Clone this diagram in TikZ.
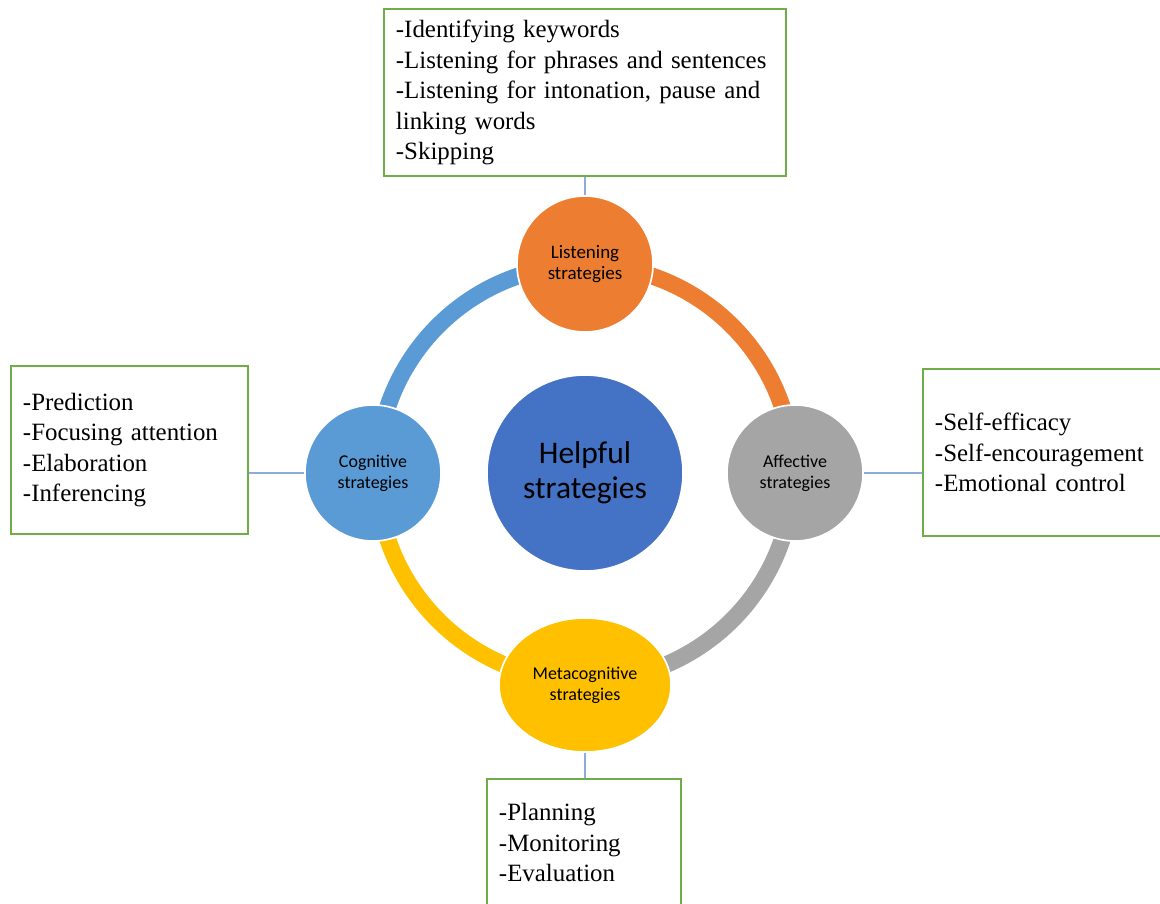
\documentclass[tikz,border=0pt]{standalone}
\usepackage{fontspec}
\setmainfont{Liberation Serif}
\newfontfamily\calib{Carlito}
\usepackage{tikz}
\usetikzlibrary{shapes.geometric}
\definecolor{corange}{HTML}{ED7D31}
\definecolor{cgray}{HTML}{A5A5A5}
\definecolor{cblue}{HTML}{5B9BD5}
\definecolor{cgold}{HTML}{FFC000}
\definecolor{cdark}{HTML}{4472C4}
\definecolor{cgreen}{HTML}{70AD47}
\definecolor{clink}{HTML}{8FAADC}

\begin{document}
\begin{tikzpicture}[x=0.025cm, y=0.025cm]
    \tikzstyle{hub}=[shape=circle, fill=cdark, draw=white, line width=1.2pt, minimum size=4.9cm, inner sep=0pt, align=center, font=\calib\fontsize{22.4}{25}\selectfont];
    \tikzstyle{strat}=[shape=circle, draw=white, line width=1.2pt, minimum size=3.4cm, inner sep=0pt, align=center, font=\calib\fontsize{12.8}{15}\selectfont];
    \tikzstyle{ring}=[line width=12pt];
    \tikzstyle{list}=[draw=cgreen, line width=1.4pt, inner xsep=0.3cm, inner ysep=0pt, align=left, font={\hyphenpenalty=10000 \fontsize{17.7}{21.7}\selectfont}];
    \tikzstyle{link}=[draw=clink, line width=0.8pt];
    \useasboundingbox (0,0) rectangle (1160,-903);
    %centre
    \node[hub] (help) at (585,-473) {Helpful\\strategies};
    %ring
    \draw[ring, cblue] (help.center) ++(180:208) arc[start angle=180, end angle=90, radius=208];
    \draw[ring, corange] (help.center) ++(90:208) arc[start angle=90, end angle=0, radius=208];
    \draw[ring, cgray] (help.center) ++(0:208) arc[start angle=0, end angle=-90, radius=208];
    \draw[ring, cgold] (help.center) ++(-90:208) arc[start angle=-90, end angle=-180, radius=208];
    %strategies
    \node[strat, fill=corange, font=\calib\fontsize{13.5}{15}\selectfont] (listen) at (585,-264) {Listening\\strategies};
    \node[strat, fill=cgray] (affect) at (795,-473) {Affective\\strategies};
    \node[strat, fill=cblue] (cogn) at (373,-473) {Cognitive\\strategies};
    \node[strat, fill=cgold, shape=ellipse, minimum width=4.3cm, minimum height=3.35cm] (meta) at (585,-685) {Metacognitive\\strategies};
    %lists
    \node[list, minimum width=10.05cm, minimum height=4.175cm, text width=9.45cm] (listenbox) at (585,-92.5) {-Identifying keywords\\-Listening for phrases and sentences\\-Listening for intonation, pause and\\linking words\\-Skipping};
    \node[list, minimum width=5.925cm, minimum height=4.2cm, text width=5.325cm] (cognbox) at (129.5,-450) {-Prediction\\-Focusing attention\\-Elaboration\\-Inferencing};
    \node[list, minimum width=6.25cm, minimum height=4.175cm, text width=5.65cm] (affectbox) at (1048,-452.5) {-Self-efficacy\\-Self-encouragement\\-Emotional control};
    \node[list, minimum width=4.85cm, minimum height=3.175cm, text width=4.25cm] (metabox) at (584,-842.5) {-Planning\\-Monitoring\\-Evaluation};
    %links
    \draw[link] (listenbox.south) -- (listen.north);
    \draw[link] (cogn.west) -- (cogn.west -| cognbox.east);
    \draw[link] (affect.east) -- (affect.east -| affectbox.west);
    \draw[link] (meta.south) -- (meta.south |- metabox.north);
\end{tikzpicture}
\end{document}
